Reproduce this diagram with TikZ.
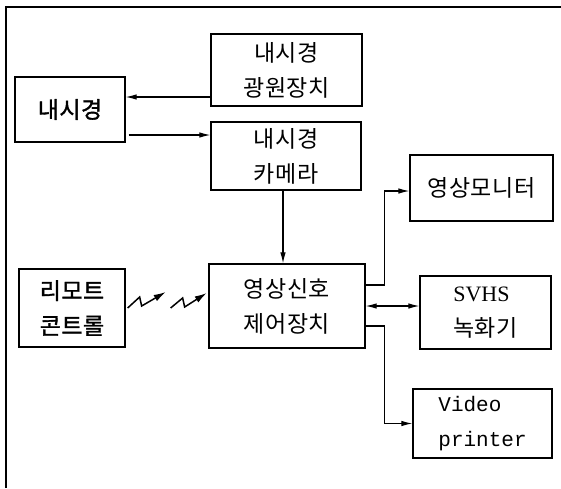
\documentclass[tikz,border=0pt]{standalone}
\usepackage{fontspec}
\newfontfamily\kr{Noto Sans CJK KR}[LetterSpace=2]
\newfontfamily\krb{Noto Sans CJK KR}[LetterSpace=2,FakeBold=1.5]
\newfontfamily\serifen{Liberation Serif}
\newfontfamily\monoen{Liberation Mono}
\usetikzlibrary{arrows.meta}
\begin{document}
\begin{tikzpicture}[x=1pt,y=-1pt,
  box/.style={draw, line width=1.3pt, inner sep=0pt, align=center,
    font={\kr\fontsize{23pt}{35pt}\selectfont}},
  boldbox/.style={box, font={\krb\fontsize{23pt}{35pt}\selectfont}},
  leftbox/.style={box, align=left},
  arr/.style={line width=1.1pt, -{Latex[length=11pt,width=5.5pt]}},
  biarr/.style={line width=1.1pt, {Latex[length=11pt,width=5.5pt]}-{Latex[length=11pt,width=5.5pt]}},
  bolt/.style={line width=1.5pt, line join=miter, -{Latex[length=12pt,width=7pt]}}
]
\useasboundingbox (0,0) rectangle (561,488);
\draw[line width=1.5pt] (6,488) -- (6,7) -- (561,7);

\node[boldbox, minimum width=110pt, minimum height=65pt] (endo) at (70,109.5) {내시경};
\node[box, minimum width=151pt, minimum height=72pt] (light) at (286.5,70) {내시경\\광원장치};
\node[box, minimum width=150pt, minimum height=68pt] (cam) at (286,156) {내시경\\카메라};
\node[box, minimum width=143pt, minimum height=66pt] (mon) at (481.5,188) {영상모니터};
\node[boldbox, minimum width=106pt, minimum height=78pt] (remote) at (72,308) {리모트\\콘트롤};
\node[box, minimum width=156pt, minimum height=84pt] (ctrl) at (287,306) {영상신호\\제어장치};
\node[leftbox, minimum width=131pt, minimum height=73pt] (svhs) at (485.5,312.5) {{\serifen\fontsize{22pt}{35pt}\selectfont SVHS}\\녹화기};
\node[leftbox, minimum width=139pt, minimum height=69pt, font={\monoen\fontsize{21pt}{35pt}\selectfont}] (printer) at (482.5,423.5) {Video\\printer};

\draw[arr] ([yshift=-27pt]light.west) -- ([yshift=-27pt]light.west -| endo.east);
\draw[arr] ([xshift=3pt,yshift=-25.5pt]endo.east) -- ([yshift=-25.5pt]endo.east -| cam.west);
\draw[arr] ([xshift=-3pt]cam.south) -- ([xshift=-3pt]cam.south |- ctrl.north);
\draw[arr] ([yshift=21pt]ctrl.east) -- ++(19,0) |- ([yshift=-3pt]mon.west);
\draw[biarr] (ctrl.east) -- (ctrl.east -| svhs.west);
\draw[arr] ([yshift=-20pt]ctrl.east) -- ++(19,0) |- (printer.west);

\coordinate (z1) at ([xshift=2pt]remote.east);
\coordinate (z2) at ([xshift=45pt]remote.east);
\draw[bolt] (z1) -- ++(12,-11) -- ++(2,9) -- ++(24,-14);
\draw[bolt] (z2) -- ++(12,-10) -- ++(2,9) -- ++(22,-14);
\end{tikzpicture}
\end{document}
